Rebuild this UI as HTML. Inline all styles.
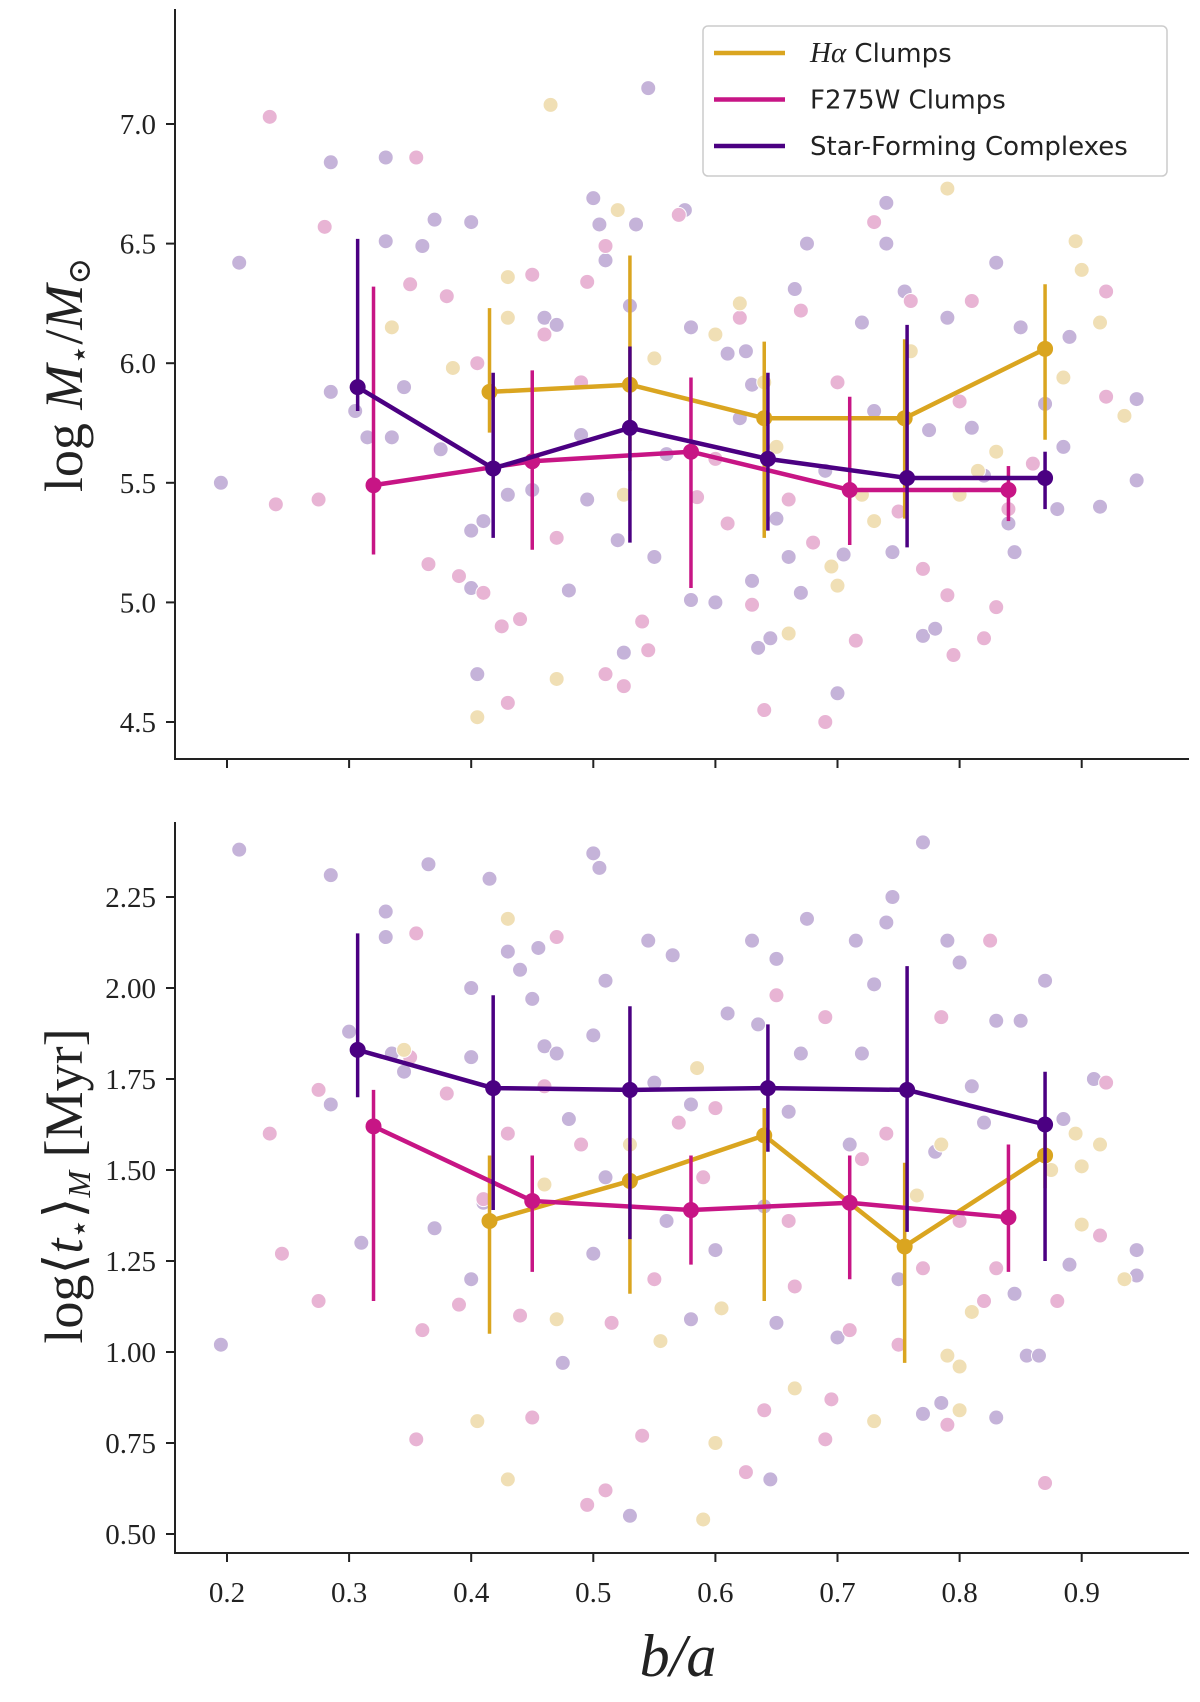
<!DOCTYPE html>
<html><head><meta charset="utf-8"><style>
body{margin:0;background:#fff}
svg{display:block}
text{font-family:"Liberation Serif","DejaVu Serif",serif;fill:#222}
</style></head><body>
<svg id="c" width="1200" height="1702"></svg>
<script>
const xTicks=[0.2,0.3,0.4,0.5,0.6,0.7,0.8,0.9];
const topTicks=[4.5,5.0,5.5,6.0,6.5,7.0];
const botTicks=[0.50,0.75,1.00,1.25,1.50,1.75,2.00,2.25];
const seriesNames=["Hα Clumps","F275W Clumps","Star-Forming Complexes"];
const topHa=[[0.415,5.88,5.71,6.23],[0.53,5.91,5.55,6.45],[0.64,5.77,5.27,6.09],[0.755,5.77,5.35,6.10],[0.87,6.06,5.68,6.33]];
const topF=[[0.32,5.49,5.20,6.32],[0.45,5.59,5.22,5.97],[0.58,5.63,5.06,5.94],[0.71,5.47,5.24,5.86],[0.84,5.47,5.34,5.57]];
const topS=[[0.307,5.90,5.80,6.52],[0.418,5.56,5.27,5.96],[0.53,5.73,5.25,6.07],[0.643,5.60,5.30,5.96],[0.757,5.52,5.23,6.16],[0.87,5.52,5.39,5.63]];
const botHa=[[0.415,1.36,1.05,1.54],[0.53,1.47,1.16,1.57],[0.64,1.595,1.14,1.67],[0.755,1.29,0.97,1.52],[0.87,1.54,1.45,1.60]];
const botF=[[0.32,1.62,1.14,1.72],[0.45,1.415,1.22,1.54],[0.58,1.39,1.24,1.54],[0.71,1.41,1.20,1.54],[0.84,1.37,1.22,1.57]];
const botS=[[0.307,1.83,1.70,2.15],[0.418,1.725,1.39,1.98],[0.53,1.72,1.31,1.95],[0.643,1.725,1.55,1.90],[0.757,1.72,1.33,2.06],[0.87,1.625,1.25,1.77]];
const topPurple=[[0.195,5.5],[0.21,6.42],[0.285,6.84],[0.285,5.88],[0.305,5.8],[0.315,5.69],[0.33,6.86],[0.33,6.51],[0.335,5.69],[0.345,5.9],[0.36,6.49],[0.37,6.6],[0.375,5.64],[0.4,6.59],[0.4,5.3],[0.4,5.06],[0.405,4.7],[0.41,5.34],[0.43,5.45],[0.45,5.47],[0.46,6.19],[0.47,6.16],[0.48,5.05],[0.49,5.7],[0.495,5.43],[0.5,6.69],[0.505,6.58],[0.51,6.43],[0.52,5.26],[0.525,4.79],[0.53,6.24],[0.535,6.58],[0.545,7.15],[0.55,5.19],[0.56,5.62],[0.575,6.64],[0.58,6.15],[0.58,5.01],[0.6,5.0],[0.61,6.04],[0.62,5.77],[0.625,6.05],[0.63,5.91],[0.63,5.09],[0.635,4.81],[0.645,4.85],[0.65,5.35],[0.66,5.19],[0.665,6.31],[0.67,5.04],[0.675,6.5],[0.69,5.55],[0.7,4.62],[0.705,5.2],[0.72,6.17],[0.73,5.8],[0.74,6.5],[0.74,6.67],[0.745,5.21],[0.755,6.3],[0.77,4.86],[0.775,5.72],[0.78,4.89],[0.79,6.19],[0.8,5.45],[0.81,5.73],[0.82,5.53],[0.83,6.42],[0.84,5.33],[0.845,5.21],[0.85,6.15],[0.87,5.83],[0.88,5.39],[0.885,5.65],[0.89,6.11],[0.915,5.4],[0.945,5.51],[0.945,5.85]];
const topPink=[[0.235,7.03],[0.24,5.41],[0.275,5.43],[0.28,6.57],[0.35,6.33],[0.355,6.86],[0.365,5.16],[0.38,6.28],[0.39,5.11],[0.405,6.0],[0.41,5.04],[0.425,4.9],[0.43,4.58],[0.44,4.93],[0.45,6.37],[0.46,6.12],[0.47,5.27],[0.49,5.92],[0.495,6.34],[0.51,6.49],[0.51,4.7],[0.525,4.65],[0.54,4.92],[0.545,4.8],[0.57,6.62],[0.585,5.44],[0.6,5.6],[0.61,5.33],[0.62,6.19],[0.63,4.99],[0.64,4.55],[0.66,5.43],[0.67,6.22],[0.68,5.25],[0.69,4.5],[0.7,5.92],[0.715,4.84],[0.73,6.59],[0.75,5.38],[0.76,6.26],[0.77,5.14],[0.79,5.03],[0.795,4.78],[0.8,5.84],[0.81,6.26],[0.82,4.85],[0.83,4.98],[0.84,5.39],[0.86,5.58],[0.92,6.3],[0.92,5.86]];
const topTan=[[0.335,6.15],[0.385,5.98],[0.405,4.52],[0.43,6.36],[0.43,6.19],[0.47,4.68],[0.465,7.08],[0.52,6.64],[0.525,5.45],[0.55,6.02],[0.6,6.12],[0.62,6.25],[0.64,5.92],[0.65,5.65],[0.66,4.87],[0.695,5.15],[0.7,5.07],[0.72,5.45],[0.73,5.34],[0.76,6.05],[0.79,6.73],[0.8,5.45],[0.815,5.55],[0.83,5.63],[0.885,5.94],[0.895,6.51],[0.9,6.39],[0.915,6.17],[0.935,5.78]];
const botPurple=[[0.195,1.02],[0.21,2.38],[0.285,2.31],[0.3,1.88],[0.285,1.68],[0.31,1.3],[0.33,2.21],[0.33,2.14],[0.335,1.82],[0.365,2.34],[0.345,1.77],[0.37,1.34],[0.4,2.0],[0.4,1.81],[0.41,1.41],[0.4,1.2],[0.415,2.3],[0.43,2.1],[0.44,2.05],[0.45,1.97],[0.455,2.11],[0.46,1.84],[0.47,1.82],[0.475,0.97],[0.48,1.64],[0.5,1.87],[0.5,2.37],[0.5,1.27],[0.505,2.33],[0.51,2.02],[0.51,1.48],[0.53,0.55],[0.545,2.13],[0.55,1.74],[0.56,1.36],[0.565,2.09],[0.58,1.68],[0.58,1.09],[0.6,1.28],[0.61,1.93],[0.63,2.13],[0.635,1.9],[0.64,1.4],[0.645,0.65],[0.65,2.08],[0.65,1.08],[0.66,1.66],[0.67,1.82],[0.675,2.19],[0.69,1.92],[0.7,1.04],[0.71,1.57],[0.715,2.13],[0.72,1.82],[0.73,2.01],[0.74,2.18],[0.745,2.25],[0.75,1.2],[0.77,0.83],[0.77,2.4],[0.78,1.55],[0.785,0.86],[0.79,2.13],[0.8,2.07],[0.81,1.73],[0.82,1.63],[0.83,0.82],[0.83,1.91],[0.845,1.16],[0.85,1.91],[0.855,0.99],[0.865,0.99],[0.87,2.02],[0.885,1.64],[0.89,1.24],[0.91,1.75],[0.945,1.28],[0.945,1.21]];
const botPink=[[0.235,1.6],[0.245,1.27],[0.275,1.72],[0.275,1.14],[0.35,1.81],[0.355,2.15],[0.355,0.76],[0.36,1.06],[0.38,1.71],[0.39,1.13],[0.41,1.42],[0.43,1.6],[0.44,1.1],[0.45,0.82],[0.46,1.73],[0.47,2.14],[0.49,1.57],[0.495,0.58],[0.51,0.62],[0.515,1.08],[0.54,0.77],[0.55,1.2],[0.57,1.63],[0.59,1.48],[0.6,1.67],[0.625,0.67],[0.64,0.84],[0.65,1.98],[0.66,1.36],[0.665,1.18],[0.69,0.76],[0.69,1.92],[0.695,0.87],[0.71,1.06],[0.72,1.53],[0.74,1.6],[0.75,1.02],[0.77,1.23],[0.785,1.92],[0.79,0.8],[0.8,1.36],[0.82,1.14],[0.825,2.13],[0.83,1.23],[0.87,0.64],[0.88,1.14],[0.915,1.32],[0.92,1.74]];
const botTan=[[0.345,1.83],[0.405,0.81],[0.43,2.19],[0.43,0.65],[0.46,1.46],[0.47,1.09],[0.53,1.57],[0.555,1.03],[0.59,0.54],[0.585,1.78],[0.6,0.75],[0.605,1.12],[0.665,0.9],[0.73,0.81],[0.765,1.43],[0.785,1.57],[0.79,0.99],[0.8,0.84],[0.8,0.96],[0.81,1.11],[0.875,1.5],[0.895,1.6],[0.9,1.35],[0.9,1.51],[0.915,1.57],[0.935,1.2]];

const NS="http://www.w3.org/2000/svg";
const svg=document.getElementById('c');
function mk(tag,attrs,parent){const e=document.createElementNS(NS,tag);for(const k in attrs)e.setAttribute(k,attrs[k]);(parent||svg).appendChild(e);return e;}
const X=v=>227+(v-0.2)*1221;
const Ytop=v=>124+(7.0-v)*(598/2.5);
const Ybot=v=>1534+(0.5-v)*(637/1.75);
const C={ha:"#daa520",f:"#c71585",s:"#4b0082"};

function panel(name,Y,top,bot,ticks,fmt,pur,pin,tan,ha,f,s){
  const g=mk('g',{});
  
  
  const sc=mk('g',{},g);
  
  
  [[pur,"#c5b3d9"],[pin,"#e8b4d4"],[tan,"#f0dfb5"]].forEach(([arr,col])=>{
    arr.forEach(p=>{const c=mk('circle',{cx:X(p[0]),cy:Y(p[1]),r:7.5,fill:col,stroke:'#fff','stroke-width':1},sc);
      
      });
  });
  [[ha,C.ha,'ha'],[f,C.f,'f275w'],[s,C.s,'sfc']].forEach(([arr,col,nm])=>{
    const sg=mk('g',{},g);
    
    
    mk('polyline',{points:arr.map(p=>X(p[0])+','+Y(p[1])).join(' '),fill:'none',stroke:col,'stroke-width':4.5},sg);
    arr.forEach(p=>{
      const e=mk('line',{x1:X(p[0]),x2:X(p[0]),y1:Y(p[2]),y2:Y(p[3]),stroke:col,'stroke-width':3.5},sg);
      
      
      const m=mk('circle',{cx:X(p[0]),cy:Y(p[1]),r:8,fill:col},sg);
      
      
    });
  });
  const ax=mk('g',{},g);
  
  
  mk('line',{x1:175,x2:175,y1:top,y2:bot,stroke:'#222','stroke-width':2},ax);
  mk('line',{x1:174,x2:1189,y1:bot,y2:bot,stroke:'#222','stroke-width':2},ax);
  ticks.forEach(t=>{
    mk('line',{x1:166,x2:175,y1:Y(t),y2:Y(t),stroke:'#222','stroke-width':2},ax);
    const tx=mk('text',{x:156,y:Y(t)+10,'text-anchor':'end','font-size':29},ax);
    tx.textContent=fmt(t);
    
    
  });
  xTicks.forEach(t=>mk('line',{x1:X(t),x2:X(t),y1:bot,y2:bot+9,stroke:'#222','stroke-width':2},ax));
  return g;
}
panel('top-panel',Ytop,9,759,topTicks,t=>t.toFixed(1),topPurple,topPink,topTan,topHa,topF,topS);
panel('bottom-panel',Ybot,822,1553,botTicks,t=>t.toFixed(2),botPurple,botPink,botTan,botHa,botF,botS);

xTicks.forEach(t=>{
  const tx=mk('text',{x:X(t),y:1602,'text-anchor':'middle','font-size':29});
  tx.textContent=t.toFixed(1);
  
  
});
const xl=mk('text',{x:678,y:1676,'text-anchor':'middle','font-size':60,'font-style':'italic'});
xl.textContent='b/a';


const yl1=mk('text',{x:0,y:0,'text-anchor':'middle','font-size':54,transform:'translate(82,375) rotate(-90)'});
yl1.innerHTML='log <tspan font-style="italic">M</tspan><tspan font-size="32" dy="8">⋆</tspan><tspan dy="-8">/</tspan><tspan font-style="italic">M</tspan><tspan font-size="32" dy="8">⊙</tspan>';


const yl2=mk('text',{x:0,y:0,'text-anchor':'middle','font-size':54,transform:'translate(82,1186) rotate(-90)'});
yl2.innerHTML='log⟨<tspan font-style="italic">t</tspan><tspan font-size="32" dy="8">⋆</tspan><tspan dy="-8">⟩</tspan><tspan font-size="32" font-style="italic" dy="8">M</tspan><tspan dy="-8"> [Myr]</tspan>';



const lg=mk('g',{});


mk('rect',{x:703,y:26,width:464,height:150,rx:5,fill:'#fff',stroke:'#ccc','stroke-width':1.5},lg);
[C.ha,C.f,C.s].forEach((col,i)=>{
  const y=53+i*46.5;
  const l=mk('line',{x1:714,x2:785,y1:y,y2:y,stroke:col,'stroke-width':4.5},lg);
  
  
  const t=mk('text',{x:810,y:y+9,style:'font-family:"DejaVu Sans","Liberation Sans",sans-serif;font-size:26px'},lg);
  if(i===0){t.innerHTML='<tspan font-style="italic" style="font-family:\'Liberation Serif\',serif;font-size:29px">Hα</tspan> Clumps';}
  else t.textContent=seriesNames[i];
  
  
});
</script>
</body></html>
